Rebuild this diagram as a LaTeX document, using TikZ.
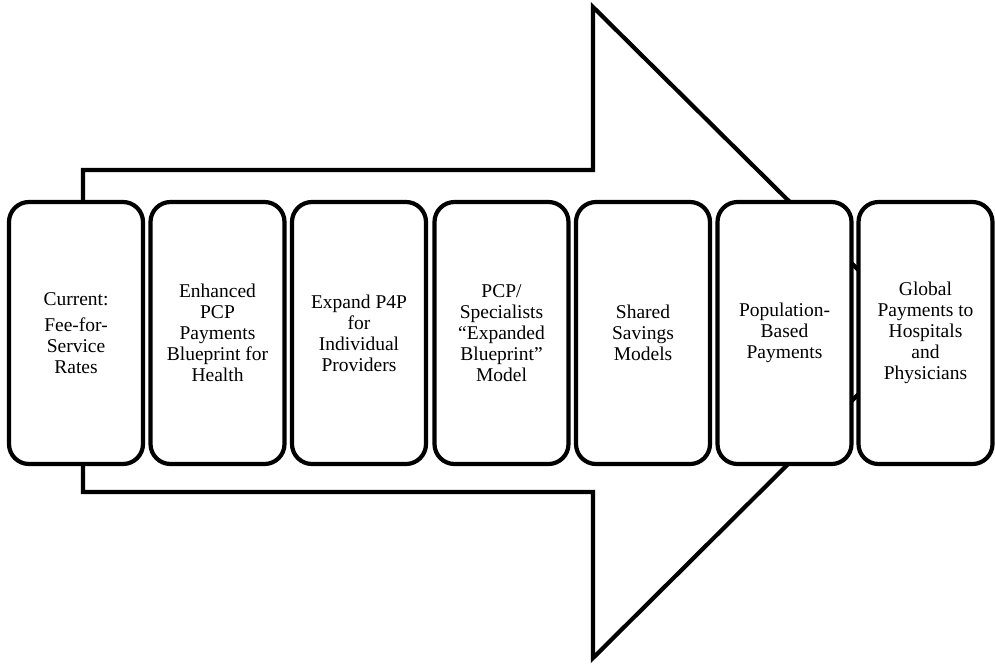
\documentclass[tikz,border=0pt]{standalone}
\usepackage{fontspec}
\setmainfont{Liberation Serif}
\begin{document}
\begin{tikzpicture}[x=1pt,y=-1pt,
  stagebox/.style={draw, line width=4.2pt, rounded corners=20pt, fill=white,
    minimum width=134pt, minimum height=262pt, align=center,
    font=\fontsize{19.5}{21}\selectfont, inner sep=2pt},
  bigarrow/.style={draw, line width=4.2pt, line join=miter}]
\useasboundingbox (0,0) rectangle (995,665);
% big arrow outline
\coordinate (bl) at (83,170);
\coordinate (n1) at (593,170);
\coordinate (n2) at (593,7);
\coordinate (tip) at (921,332);
\coordinate (n3) at (593,658);
\coordinate (n4) at (593,492);
\coordinate (br) at (83,492);
\draw[bigarrow] (bl) -- (n1) -- (n2) -- (tip) -- (n3) -- (n4) -- (br) -- cycle;
% stages
\node[stagebox] (s1) at (76,333) {Current:\\[5pt]Fee-for-\\Service\\Rates};
\node[stagebox] (s2) at (217.5,333) {Enhanced\\PCP\\Payments\\Blueprint for\\Health};
\node[stagebox] (s3) at (359,333) {Expand P4P\\for\\Individual\\Providers};
\node[stagebox] (s4) at (501.5,333) {PCP/\\Specialists\\``Expanded\\Blueprint''\\Model};
\node[stagebox] (s5) at (643,333) {Shared\\Savings\\Models};
\node[stagebox] (s6) at (784.5,333) {Population-\\Based\\Payments};
\node[stagebox] (s7) at (925.5,333) {Global\\Payments to\\Hospitals\\and\\Physicians};
\end{tikzpicture}
\end{document}
